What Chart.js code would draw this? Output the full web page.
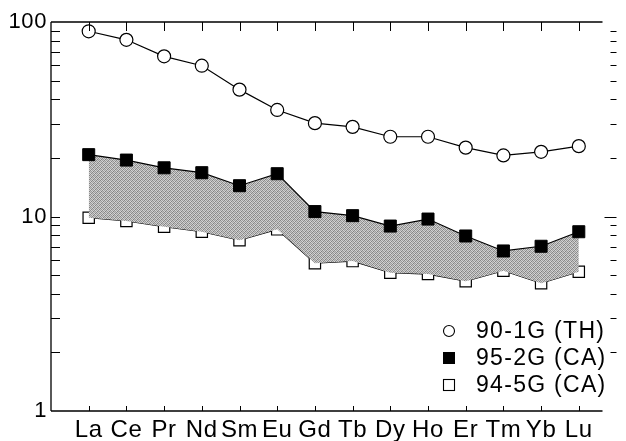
<!DOCTYPE html>
<html>
<head>
<meta charset="utf-8">
<script src="https://cdn.jsdelivr.net/npm/chart.js@4"></script>
<style>
  html, body { margin: 0; padding: 0; background: #fff; }
  #wrap { width: 626px; height: 441px; }
</style>
</head>
<body>
<div id="wrap"><canvas id="graficoREE" width="626" height="441"></canvas></div>
<script>
const elementos = ['La', 'Ce', 'Pr', 'Nd', 'Sm', 'Eu', 'Gd', 'Tb', 'Dy', 'Ho', 'Er', 'Tm', 'Yb', 'Lu']
const amostraTH = [89.6, 81, 66.6, 59.6, 44.9, 35.3, 30.2, 28.9, 25.7, 25.7, 22.6, 20.6, 21.5, 23.0]
const amostraCA1 = [20.8, 19.5, 17.8, 16.8, 14.4, 16.6, 10.6, 10.1, 8.93, 9.7, 7.94, 6.65, 7.03, 8.35]
const amostraCA2 = [9.86, 9.48, 8.86, 8.35, 7.55, 8.59, 5.75, 5.9, 5.14, 5.06, 4.65, 5.26, 4.54, 5.2]
const rotulosY = [1, 10, 100]
const legendas = ['90-1G (TH)', '95-2G (CA)', '94-5G (CA)']

const fonte = '"Liberation Sans", Arial, Helvetica, sans-serif'

// textura pontilhada (tons de cinza) da faixa entre as duas amostras CA
function criarTextura() {
    const tons = [
        '#888888', '#d0d0d0', '#a0a0a0', '#c8c8c8',
        '#c4c4c4', '#989898', '#d8d8d8', '#848484',
        '#a4a4a4', '#cccccc', '#8c8c8c', '#d4d4d4',
        '#d6d6d6', '#808080', '#c0c0c0', '#9c9c9c'
    ]
    const c = document.createElement('canvas')
    c.width = 4
    c.height = 4
    const g = c.getContext('2d')
    tons.forEach((t, i) => {
        g.fillStyle = t
        g.fillRect(i % 4, Math.floor(i / 4), 1, 1)
    })
    return g.createPattern(c, 'repeat')
}

const paraPontos = arr => arr.map((v, i) => ({ x: i + 1, y: v }))

// espaçamento das letras um pouco maior, como no original
const espacamento = {
    id: 'espacamento',
    beforeDraw(chart) { chart.ctx.letterSpacing = '0.6px' }
}

// eixos com ticks internos, no estilo do gráfico original
const moldura = {
    id: 'moldura',
    afterDatasetsDraw(chart) {
        const { ctx, chartArea: a, scales } = chart
        const x = scales.x, y = scales.y
        ctx.save()
        ctx.strokeStyle = '#000'
        ctx.lineWidth = 1.3
        ctx.beginPath()
        ctx.moveTo(a.left, a.top)
        ctx.lineTo(a.left, a.bottom)
        ctx.moveTo(a.left, a.bottom)
        ctx.lineTo(a.right - 14, a.bottom)
        ctx.moveTo(a.left, a.top)
        ctx.lineTo(a.right - 14, a.top)
        ctx.stroke()

        ctx.lineWidth = 1
        ctx.beginPath()
        for (let i = 1; i <= elementos.length; i++) {
            const px = Math.round(x.getPixelForValue(i)) + 0.5
            ctx.moveTo(px, a.top)
            ctx.lineTo(px, a.top + 9)
            ctx.moveTo(px, a.bottom)
            ctx.lineTo(px, a.bottom - 5)
        }
        for (let dec = 1; dec < 100; dec *= 10) {
            for (let m = 1; m <= 9; m++) {
                const v = dec * m
                if (v === 1) continue
                const py = Math.round(y.getPixelForValue(v)) + 0.5
                const major = m === 1
                ctx.moveTo(a.left, py)
                ctx.lineTo(a.left + 9, py)
                ctx.moveTo(a.right, py)
                ctx.lineTo(a.right - (major ? 12 : 6), py)
            }
        }
        ctx.stroke()
        ctx.restore()
    }
}

// legenda dentro da área do gráfico, canto inferior direito
const legendaInterna = {
    id: 'legendaInterna',
    afterDraw(chart) {
        const { ctx } = chart
        const linhas = [331, 358, 385]
        const xm = 449
        ctx.save()
        ctx.font = '23px ' + fonte
        ctx.letterSpacing = '1.3px'
        ctx.textBaseline = 'middle'
        ctx.fillStyle = '#000'
        ctx.strokeStyle = '#000'
        ctx.lineWidth = 1.1
        // círculo aberto
        ctx.beginPath()
        ctx.arc(xm, linhas[0], 5.5, 0, Math.PI * 2)
        ctx.stroke()
        // quadrado cheio
        ctx.fillRect(xm - 6, linhas[1] - 6, 12, 12)
        // quadrado aberto
        ctx.strokeRect(xm - 5.5, linhas[2] - 5.5, 11, 11)
        legendas.forEach((t, i) => ctx.fillText(t, 476, linhas[i] + 1))
        ctx.restore()
    }
}

const ctx = document.getElementById('graficoREE').getContext('2d')

new Chart(ctx, {
    type: 'line',
    data: {
        datasets: [
            {
                label: legendas[0],
                data: paraPontos(amostraTH),
                borderColor: '#000',
                borderWidth: 1.2,
                pointStyle: 'circle',
                pointRadius: 6.5,
                pointBorderWidth: 1.2,
                pointBackgroundColor: '#fff',
                pointBorderColor: '#000',
                fill: false
            },
            {
                label: legendas[1],
                data: paraPontos(amostraCA1),
                borderColor: '#000',
                borderWidth: 1.2,
                pointStyle: 'rect',
                pointRadius: 8.5,
                pointBorderWidth: 1,
                pointBackgroundColor: '#000',
                pointBorderColor: '#000',
                backgroundColor: criarTextura(),
                fill: '+1'
            },
            {
                label: legendas[2],
                data: paraPontos(amostraCA2),
                borderColor: '#000',
                borderWidth: 1.2,
                pointStyle: 'rect',
                pointRadius: 8,
                pointBorderWidth: 1.2,
                pointBackgroundColor: '#fff',
                pointBorderColor: '#000',
                fill: false
            }
        ]
    },
    options: {
        responsive: false,
        animation: false,
        devicePixelRatio: 1,
        layout: { padding: { top: 22, right: 0, left: 0, bottom: 0 } },
        plugins: {
            legend: { display: false },
            tooltip: { enabled: false }
        },
        scales: {
            x: {
                type: 'linear',
                min: 0,
                max: 15,
                grid: { display: false, drawTicks: false },
                border: { display: false },
                afterBuildTicks: s => { s.ticks = elementos.map((e, i) => ({ value: i + 1 })) },
                afterFit: s => { s.height = 30 },
                ticks: {
                    autoSkip: false,
                    maxRotation: 0,
                    padding: 5,
                    color: '#000',
                    font: { family: fonte, size: 24 },
                    callback: v => elementos[v - 1] || ''
                }
            },
            y: {
                type: 'logarithmic',
                min: 1,
                max: 100,
                grid: { display: false, drawTicks: false },
                border: { display: false },
                afterBuildTicks: s => { s.ticks = rotulosY.map(v => ({ value: v })) },
                afterFit: s => { s.width = 51 },
                ticks: {
                    autoSkip: false,
                    padding: 4,
                    color: '#000',
                    font: { family: fonte, size: 22 },
                    callback: v => String(v)
                }
            }
        }
    },
    plugins: [espacamento, moldura, legendaInterna]
})
</script>
</body>
</html>
